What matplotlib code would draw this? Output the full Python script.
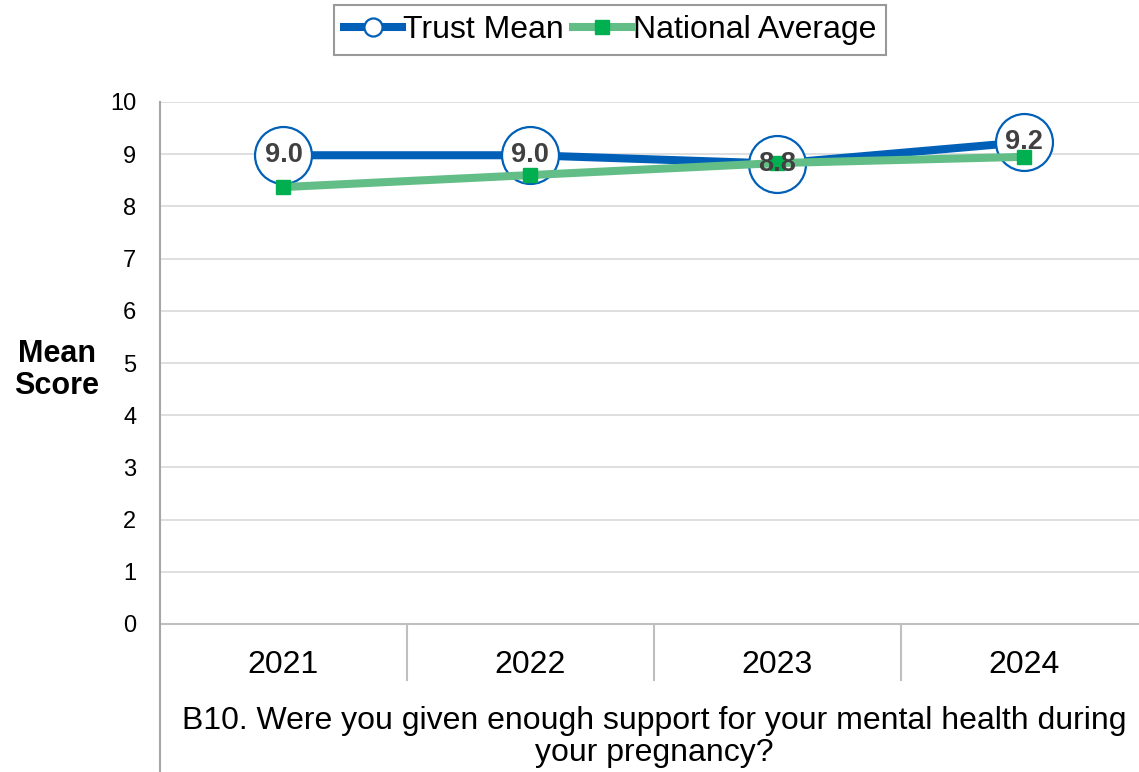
import matplotlib.pyplot as plt
from matplotlib.lines import Line2D
import numpy as np

plt.rcParams['font.family'] = ['Liberation Sans', 'DejaVu Sans']

years = ["2021", "2022", "2023", "2024"]
trust_mean = [8.98, 8.98, 8.82, 9.23]
trust_labels = ["9.0", "9.0", "8.8", "9.2"]
national_avg = [8.37, 8.60, 8.83, 8.95]
question = "B10. Were you given enough support for your mental health during\nyour pregnancy?"

W, H = 1139, 772
fig = plt.figure(figsize=(W / 100, H / 100), dpi=100)
ax = fig.add_axes([160 / W, 1 - 624 / H, (1147.5 - 160) / W, (624 - 102) / H])

x = np.arange(len(years))
blue = "#0060B8"
green_line = "#62BE86"
green_mark = "#00B050"

ax.plot(x, trust_mean, color=blue, lw=5.8, marker="o", ms=41, mfc="white",
        mec=blue, mew=1.6, zorder=3, label="Trust Mean")
ax.plot(x, national_avg, color=green_line, lw=5.8, marker="s", ms=10,
        mfc=green_mark, mec=green_mark, zorder=4, label="National Average")
for xi, yi, lab in zip(x, trust_mean, trust_labels):
    ax.text(xi, yi, lab, ha="center", va="center", fontsize=19.5,
            fontweight="bold", color="#404040", zorder=5)

ax.set_xlim(-0.5, 3.5)
ax.set_ylim(0, 10)
ax.set_yticks(range(0, 11))
ax.yaxis.grid(True, color="#D9D9D9", lw=1.2)
ax.set_axisbelow(True)
ax.tick_params(axis="y", length=0, pad=17, labelsize=17)
ax.set_xticks(x)
ax.set_xticklabels(years)
ax.tick_params(axis="x", length=0, pad=19, labelsize=23)
for s in ["top", "right"]:
    ax.spines[s].set_visible(False)
ax.spines["left"].set_visible(False)
ax.spines["bottom"].set_color("#BFBFBF")
ax.spines["bottom"].set_linewidth(1.5)

# category axis lines (left axis runs to the bottom, dividers between years)
fig.add_artist(Line2D([160 / W, 160 / W], [0, 1 - 102 / H], color="#A6A6A6", lw=1.5))
for xd in [407, 654, 901]:
    fig.add_artist(Line2D([xd / W, xd / W], [1 - 624 / H, 1 - 680 / H], color="#BFBFBF", lw=1.5))

fig.text(654 / W, 1 - 737 / H, question, ha="center", va="center", fontsize=23,
         linespacing=1.12)
fig.text(57 / W, 1 - 370 / H, "Mean\nScore", ha="center", va="center",
         fontsize=22, fontweight="bold", linespacing=1.05)

leg = fig.legend(loc="center", bbox_to_anchor=(610 / W, 1 - 30 / H), ncol=2,
                 fontsize=23, frameon=True, fancybox=False, edgecolor="#808080",
                 handlelength=1.8, handletextpad=0.05, columnspacing=0.3,
                 borderpad=0.32, borderaxespad=0)
leg.get_frame().set_linewidth(1.5)
leg.legend_handles[0].set_markersize(13)
leg.legend_handles[1].set_markersize(10)

fig.savefig("out.png", dpi=100)
